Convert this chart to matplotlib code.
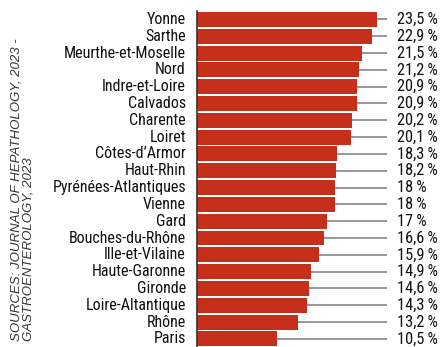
import matplotlib
matplotlib.use("Agg")
import matplotlib.pyplot as plt
from matplotlib import font_manager

departments = ["Yonne", "Sarthe", "Meurthe-et-Moselle", "Nord", "Indre-et-Loire",
               "Calvados", "Charente", "Loiret", "Côtes-d’Armor", "Haut-Rhin",
               "Pyrénées-Atlantiques", "Vienne", "Gard", "Bouches-du-Rhône",
               "Ille-et-Vilaine", "Haute-Garonne", "Gironde", "Loire-Altantique",
               "Rhône", "Paris"]
values = [23.5, 22.9, 21.5, 21.2, 20.9, 20.9, 20.2, 20.1, 18.3, 18.2,
          18.0, 18.0, 17.0, 16.6, 15.9, 14.9, 14.6, 14.3, 13.2, 10.5]
value_labels = ["23,5\u2009%", "22,9\u2009%", "21,5\u2009%", "21,2\u2009%",
                "20,9\u2009%", "20,9\u2009%", "20,2\u2009%", "20,1\u2009%",
                "18,3\u2009%", "18,2\u2009%", "18\u2009%", "18\u2009%", "17\u2009%",
                "16,6\u2009%", "15,9\u2009%", "14,9\u2009%", "14,6\u2009%",
                "14,3\u2009%", "13,2\u2009%", "10,5\u2009%"]
source = "SOURCES: JOURNAL OF HEPATHOLOGY, 2023 -\nGASTROENTEROLOGY, 2023"

# pick a narrow sans face, Helvetica Condensed look-alike
names = {f.name for f in font_manager.fontManager.ttflist}
narrow = "DejaVu Sans"
for cand in ["Liberation Sans Narrow", "Nimbus Sans Narrow", "Roboto Condensed",
             "Archivo Narrow", "Asap Condensed", "Barlow Condensed"]:
    if cand in names:
        narrow = cand
        break
label_font = [narrow, "DejaVu Sans"]

W, H = 443, 347
fig = plt.figure(figsize=(W / 100, H / 100), dpi=100)
ax = fig.add_axes([197 / W, 0, (387 - 197) / W, 1 - 11 / H])

n = len(values)
ys = list(range(n))
step = (339 - 19.5) / (n - 1)
ax.barh(ys, values, height=0.89, color="#c6301a", zorder=2)
xmax = 190 / 7.66
for y, v, lab in zip(ys, values, value_labels):
    ax.plot([v, xmax], [y, y], color="#7a7a7a", lw=1.1, zorder=1,
            solid_capstyle="butt", clip_on=False)
    ax.annotate(lab, (xmax, y), xytext=(7, 0), textcoords="offset points",
                ha="left", va="center", fontsize=11.8,
                family=label_font, color="#111111")

ax.set_xlim(0, xmax)
ax.set_ylim(-0.5 + 336 / step, -0.5)
ax.set_yticks(ys)
ax.set_yticklabels(departments, fontsize=11.5, family=label_font,
                   color="#111111", va="center")
ax.tick_params(axis="y", length=0, pad=8)
ax.set_xticks([])
for s in ["top", "right", "bottom"]:
    ax.spines[s].set_visible(False)
ax.spines["left"].set_color("#333333")
ax.spines["left"].set_linewidth(1.2)

fig.text(22.5 / W, 1 - 341 / H, source, rotation=90, ha="center", va="bottom",
         fontsize=9.5, style="italic", color="#333333", linespacing=0.9,
         family=["Liberation Sans", "DejaVu Sans"], multialignment="left")

fig.savefig("out.png", dpi=100)
